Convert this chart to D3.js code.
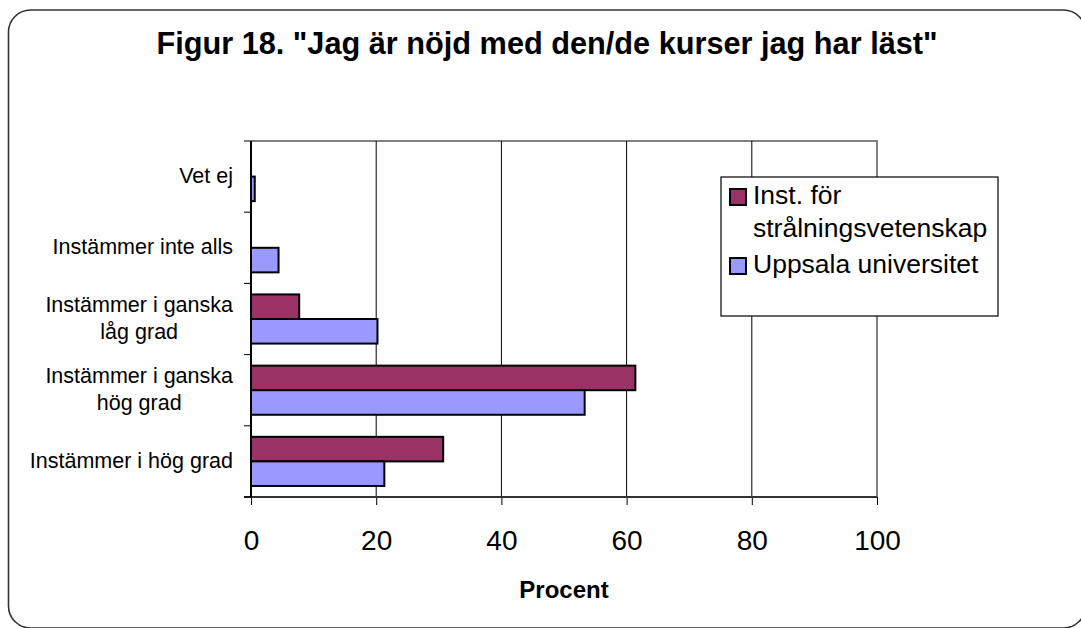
<html>
<head>
<meta charset="UTF-8">
<style>
  body { margin: 0; background: #fff; }
  text { font-family: "Liberation Sans", Arial, sans-serif; fill: #000; }
</style>
<script src="https://cdn.jsdelivr.net/npm/d3@7"></script>
</head>
<body>
<div class="chart"></div>
<script>

var title = 'Figur 18. "Jag är nöjd med den/de kurser jag har läst"';
var categories = ["Vet ej", "Instämmer inte alls", "Instämmer i ganska låg grad",
                  "Instämmer i ganska hög grad", "Instämmer i hög grad"];
var categoryLines = [["Vet ej"], ["Instämmer inte alls"], ["Instämmer i ganska", "låg grad"],
                     ["Instämmer i ganska", "hög grad"], ["Instämmer i hög grad"]];
var seriesNames = ["Inst. för strålningsvetenskap", "Uppsala universitet"];
var legendLines = [["Inst. för", "strålningsvetenskap"], ["Uppsala universitet"]];
var instValues = [0, 0, 7.7, 61.4, 30.7];
var uuValues = [0.6, 4.4, 20.2, 53.3, 21.3];
var xTicks = [0, 20, 40, 60, 80, 100];
var colors = ["#993366", "#9999ff"];

var W = 1081, H = 628;
var plot = {left: 251, right: 877, top: 141, bottom: 497};

var svg = d3.select(".chart").append("svg")
    .attr("width", W)
    .attr("height", H);

// outer rounded frame
svg.append("rect")
    .attr("x", 8.5).attr("y", 10)
    .attr("width", 1077).attr("height", 618)
    .attr("rx", 22).attr("ry", 22)
    .attr("fill", "#fff")
    .attr("stroke", "#333")
    .attr("stroke-width", 1.6);

svg.append("text")
    .attr("x", 547).attr("y", 54)
    .attr("text-anchor", "middle")
    .style("font-size", "30.7px")
    .style("font-weight", "bold")
    .text(title);

var x = d3.scaleLinear().domain([0, 100]).range([plot.left, plot.right]);
var y = d3.scaleBand().domain(categories).range([plot.top, plot.bottom]).paddingInner(0.31).paddingOuter(0.155);
var ySeries = d3.scaleBand().domain(seriesNames).range([0, y.bandwidth()]);

var rows = categories.map(function(c, i) {
  return {cat: c, lines: categoryLines[i], values: [instValues[i], uuValues[i]]};
});

// plot border (top and right grey)
svg.append("path")
    .attr("d", "M" + plot.left + "," + plot.top + "H" + plot.right + "V" + plot.bottom)
    .attr("fill", "none")
    .attr("stroke", "#808080")
    .attr("stroke-width", 2);

// gridlines
svg.selectAll(".grid")
    .data(xTicks.filter(function(d) { return d > 0 && d < 100; }))
  .enter().append("line")
    .attr("x1", function(d) { return x(d); })
    .attr("x2", function(d) { return x(d); })
    .attr("y1", plot.top).attr("y2", plot.bottom)
    .attr("stroke", "#000")
    .attr("stroke-width", 1);

// bars
var groups = svg.selectAll(".grp")
    .data(rows)
  .enter().append("g")
    .attr("transform", function(d) { return "translate(0," + y(d.cat) + ")"; });

groups.selectAll("rect")
    .data(function(d) {
      return d.values.map(function(v, j) { return {name: seriesNames[j], value: v, idx: j}; })
        .filter(function(e) { return e.value > 0; });
    })
  .enter().append("rect")
    .attr("x", x(0))
    .attr("y", function(d) { return ySeries(d.name); })
    .attr("width", function(d) { return x(d.value) - x(0); })
    .attr("height", ySeries.bandwidth())
    .attr("fill", function(d) { return colors[d.idx]; })
    .attr("stroke", "#000")
    .attr("stroke-width", 2);

// x axis
var xAxis = d3.axisBottom(x).tickValues(xTicks).tickSize(8).tickPadding(25);
var gx = svg.append("g")
    .attr("transform", "translate(0," + plot.bottom + ")")
    .call(xAxis);
gx.select(".domain").remove();
gx.append("line")
    .attr("x1", plot.left - 7).attr("x2", plot.right)
    .attr("stroke", "#333").attr("stroke-width", 2);
gx.selectAll(".tick line").attr("stroke", "#000");
gx.selectAll(".tick text")
    .style("font-size", "28px")
    .attr("fill", "#000")
    .attr("font-family", "Liberation Sans, Arial, sans-serif");

svg.append("text")
    .attr("x", 564).attr("y", 598)
    .attr("text-anchor", "middle")
    .style("font-size", "24px")
    .style("font-weight", "bold")
    .text("Procent");

// y axis
var boundaries = categories.map(function(c) { return y(c) - y.step() * y.paddingInner() / 2; })
    .concat([plot.bottom]);
svg.append("line")
    .attr("x1", plot.left).attr("x2", plot.left)
    .attr("y1", plot.top).attr("y2", plot.bottom)
    .attr("stroke", "#000").attr("stroke-width", 2);
svg.selectAll(".ytick")
    .data(boundaries)
  .enter().append("line")
    .attr("x1", plot.left - 7).attr("x2", plot.left)
    .attr("y1", function(d) { return d; })
    .attr("y2", function(d) { return d; })
    .attr("stroke", "#000").attr("stroke-width", 1);

var labels = svg.selectAll(".ylab")
    .data(rows)
  .enter().append("text")
    .attr("text-anchor", "middle")
    .style("font-size", "21.5px")
    .attr("transform", function(d) {
      return "translate(0," + (y(d.cat) + y.bandwidth() / 2 + 6.5) + ")";
    });
labels.each(function(d) {
  var t = d3.select(this);
  var n = d.lines.length;
  d.lines.forEach(function(line, k) {
    t.append("tspan")
      .attr("y", (k - (n - 1) / 2) * 27)
      .text(line);
  });
  // right align the block, lines centred within it
  var widths = [];
  t.selectAll("tspan").each(function() { widths.push(this.getComputedTextLength()); });
  var w = d3.max(widths);
  t.selectAll("tspan").attr("x", 233 - w / 2);
});

// legend
var lg = svg.append("g");
lg.append("rect")
    .attr("x", 721).attr("y", 177)
    .attr("width", 277).attr("height", 139)
    .attr("fill", "#fff")
    .attr("stroke", "#000")
    .attr("stroke-width", 1.2);

var legendY = [189, 258];
legendLines.forEach(function(lines, i) {
  lg.append("rect")
    .attr("x", 730).attr("y", legendY[i])
    .attr("width", 16).attr("height", 16)
    .attr("fill", colors[i])
    .attr("stroke", "#000")
    .attr("stroke-width", 2);
  lines.forEach(function(line, k) {
    lg.append("text")
      .attr("x", 753).attr("y", legendY[i] + 15 + k * 33)
      .style("font-size", "26.5px")
      .text(line);
  });
});

</script>
</body>
</html>
